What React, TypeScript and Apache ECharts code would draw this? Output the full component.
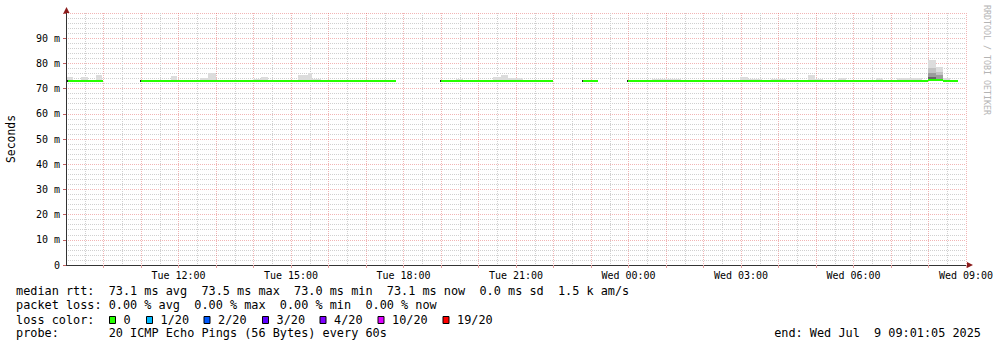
import React, { useEffect, useRef } from "react";
import * as echarts from "echarts";

// ---- data ----
const xTickHours = [3, 6, 9, 12, 15, 18, 21, 24];
const xTickLabels = ["Tue 12:00", "Tue 15:00", "Tue 18:00", "Tue 21:00", "Wed 00:00", "Wed 03:00", "Wed 06:00", "Wed 09:00"];
const yTickValues = [0, 10, 20, 30, 40, 50, 60, 70, 80, 90];
const yTickLabels = ["0", "10 m", "20 m", "30 m", "40 m", "50 m", "60 m", "70 m", "80 m", "90 m"];

// median rtt segments: [startHour, endHour, ms]  (hours since Tue 09:00)
const medianSegments = [
  [0.02, 0.98, 73.1],
  [1.97, 8.79, 73.1],
  [9.97, 12.98, 73.1],
  [13.77, 14.18, 73.1],
  [14.95, 22.98, 73.1],
  [22.98, 23.39, 73.55],
  [23.39, 23.79, 73.1],
];

// smoke: [startHour, endHour, low ms, high ms, shade]
const smoke = [
  [0.02, 0.18, 73.1, 74.5, 0],
  [0.4, 0.59, 73.1, 74.5, 0],
  [0.8, 0.96, 73.1, 75.4, 0],
  [2.8, 2.96, 73.1, 75.0, 0],
  [3.57, 3.79, 73.1, 74.1, 0],
  [3.79, 4.0, 73.1, 76.2, 0],
  [4.98, 5.2, 73.1, 74.0, 0],
  [5.2, 5.39, 73.1, 74.6, 0],
  [6.19, 6.45, 73.1, 75.4, 0],
  [6.45, 6.56, 73.1, 76.2, 0],
  [6.56, 6.8, 73.1, 74.0, 0],
  [10.4, 10.59, 73.1, 74.0, 0],
  [11.39, 11.6, 73.1, 74.6, 0],
  [11.6, 11.79, 73.1, 75.4, 0],
  [11.79, 12.19, 73.1, 74.3, 0],
  [15.63, 16.4, 73.1, 74.0, 0],
  [17.97, 18.19, 73.1, 74.6, 0],
  [18.19, 18.56, 73.1, 74.0, 0],
  [18.8, 19.2, 73.1, 74.0, 0],
  [19.79, 19.97, 73.1, 75.2, 0],
  [19.97, 20.19, 73.1, 74.0, 0],
  [20.59, 20.8, 73.1, 74.2, 0],
  [21.6, 21.79, 73.1, 74.2, 0],
  [22.16, 22.83, 73.1, 74.2, 0],
  [22.98, 23.2, 73.1, 74.7, 3],
  [22.98, 23.2, 74.7, 76.1, 2],
  [22.98, 23.2, 76.1, 78.1, 1],
  [22.98, 23.2, 78.1, 81.3, 0],
  [23.2, 23.38, 73.1, 75.4, 2],
  [23.2, 23.38, 75.4, 76.7, 1],
  [23.2, 23.38, 76.7, 78.5, 0],
  [23.38, 23.57, 73.1, 74.2, 0],
];

const lossLabels = ["0", "1/20", "2/20", "3/20", "4/20", "10/20", "19/20"];
const lossColors = ["#26ff00", "#00b8ff", "#0059ff", "#5e00ff", "#7e00ff", "#dd00ff", "#ff0000"];

const legendLine1 = "median rtt:  73.1 ms avg  73.5 ms max  73.0 ms min  73.1 ms now  0.0 ms sd  1.5 k am/s";
const legendLine2 = "packet loss: 0.00 % avg  0.00 % max  0.00 % min  0.00 % now";
const legendLine3 = "loss color:";
const legendLine4 = "probe:       20 ICMP Echo Pings (56 Bytes) every 60s";
const endText = "end: Wed Jul  9 09:01:05 2025";

// ---- styles ----
const MONO = '"DejaVu Sans Mono", monospace';
const shadeColors = ["#dcdcdc", "#c2c2c2", "#9c9c9c", "#666666"];
const lossBoxX = [109, 146, 203.5, 262, 319.5, 377.5, 442.5];

export default function App() {
  const ref = useRef<HTMLDivElement>(null);
  useEffect(() => {
    if (!ref.current) return;
    const chart = echarts.init(ref.current, null, { renderer: "svg" });
    const legendFont = `11.85px ${MONO}`;
    const graphic: any[] = [
      {
        type: "text", x: 11, y: 139, rotation: Math.PI / 2,
        style: { text: "Seconds", font: `11.4px ${MONO}`, fill: "#000", align: "center", verticalAlign: "middle" },
      },
      {
        type: "text", x: 987, y: 60, rotation: -Math.PI / 2,
        style: { text: "RRDTOOL / TOBI OETIKER", font: `8.3px ${MONO}`, fill: "#b4b4b4", align: "center", verticalAlign: "middle" },
      },
      { type: "polygon", shape: { points: [[63.5, 13], [66.5, 7], [69.5, 13]] }, style: { fill: "#8b1c1c" }, z: 10 },
      { type: "polygon", shape: { points: [[967, 262], [973, 265], [967, 268]] }, style: { fill: "#8b1c1c" }, z: 10 },
      { type: "text", x: 16, y: 291, style: { text: legendLine1, font: legendFont, fill: "#000", verticalAlign: "middle" } },
      { type: "text", x: 16, y: 305, style: { text: legendLine2, font: legendFont, fill: "#000", verticalAlign: "middle" } },
      { type: "text", x: 16, y: 319.5, style: { text: legendLine3, font: legendFont, fill: "#000", verticalAlign: "middle" } },
      { type: "text", x: 16, y: 333, style: { text: legendLine4, font: legendFont, fill: "#000", verticalAlign: "middle" } },
      { type: "text", x: 981, y: 333, style: { text: endText, font: legendFont, fill: "#000", align: "right", verticalAlign: "middle" } },
    ];
    lossLabels.forEach((lab, i) => {
      graphic.push({
        type: "rect", shape: { x: lossBoxX[i] + 0.5, y: 316.5, width: 6, height: 7 },
        style: { fill: lossColors[i], stroke: "#000", lineWidth: 1 },
      });
      graphic.push({
        type: "text", x: lossBoxX[i] + 14.5, y: 319.5,
        style: { text: lab, font: legendFont, fill: "#000", verticalAlign: "middle" },
      });
    });

    const majorGrid = { color: "rgba(222,60,60,0.38)", type: [1, 1] as any, width: 1 };
    const minorGrid = { color: "#d0d0d0", type: [1, 1] as any, width: 1 };

    chart.setOption({
      animation: false,
      backgroundColor: "#ffffff",
      grid: { left: 66, top: 13, width: 900, height: 252, containLabel: false },
      xAxis: {
        type: "value", min: 0, max: 24, interval: 1,
        axisLine: { show: true, onZero: false, lineStyle: { color: "#333", width: 1 } },
        axisTick: { show: true, length: 3, lineStyle: { color: "#e2a0a0" } },
        axisLabel: {
          color: "#000", fontFamily: MONO, fontSize: 10, margin: 5, hideOverlap: false,
          showMaxLabel: true, showMinLabel: false,
          formatter: (v: number) => {
            const i = xTickHours.indexOf(Math.round(v));
            return i >= 0 ? xTickLabels[i] : "";
          },
        },
        splitLine: { show: true, lineStyle: majorGrid },
        minorTick: { show: false, splitNumber: 2 },
        minorSplitLine: { show: true, lineStyle: minorGrid },
      },
      yAxis: {
        type: "value", min: 0, max: 100, interval: 10,
        axisLine: { show: true, lineStyle: { color: "#333", width: 1 } },
        axisTick: { show: true, length: 3, lineStyle: { color: "#c06060" } },
        axisLabel: {
          color: "#000", fontFamily: MONO, fontSize: 10, margin: 6,
          formatter: (v: number) => {
            const i = yTickValues.indexOf(Math.round(v));
            return i >= 0 ? yTickLabels[i] : "";
          },
        },
        splitLine: { show: true, lineStyle: majorGrid },
        minorTick: { show: false, splitNumber: 5 },
        minorSplitLine: { show: true, lineStyle: minorGrid },
      },
      graphic,
      series: [
        {
          type: "custom", name: "smoke", clip: true, z: 2,
          encode: { x: [0, 1], y: [2, 3] },
          data: smoke,
          renderItem: (params: any, api: any) => {
            const p0 = api.coord([api.value(0), api.value(3)]);
            const p1 = api.coord([api.value(1), api.value(2)]);
            const x0 = Math.round(p0[0]), x1 = Math.round(p1[0]);
            const y0 = Math.round(p0[1]), y1 = Math.round(p1[1]);
            return {
              type: "rect",
              shape: { x: x0, y: y0, width: x1 - x0, height: y1 - y0 },
              style: { fill: shadeColors[api.value(4)] },
            };
          },
        },
        {
          type: "custom", name: "median", clip: true, z: 3,
          encode: { x: [0, 1], y: 2 },
          data: medianSegments,
          renderItem: (params: any, api: any) => {
            const i = params.dataIndex;
            const s0 = api.value(0), s1 = api.value(1), v = api.value(2);
            const p0 = api.coord([s0, v]);
            const p1 = api.coord([s1, v]);
            const x0 = Math.round(p0[0]), x1 = Math.round(p1[0]);
            const y = Math.round(p0[1] - 1);
            const children: any[] = [
              { type: "rect", shape: { x: x0, y, width: x1 - x0, height: 2 }, style: { fill: lossColors[0] } },
            ];
            const prev = i > 0 ? medianSegments[i - 1][1] : -1;
            if (prev !== s0) {
              children.push({ type: "rect", shape: { x: x0, y, width: 1, height: 2 }, style: { fill: "#222" } });
            }
            return { type: "group", children };
          },
        },
      ],
    });
    return () => chart.dispose();
  }, []);
  return <div ref={ref} style={{ position: "fixed", left: 0, top: 0, width: 997, height: 347 }} />;
}
